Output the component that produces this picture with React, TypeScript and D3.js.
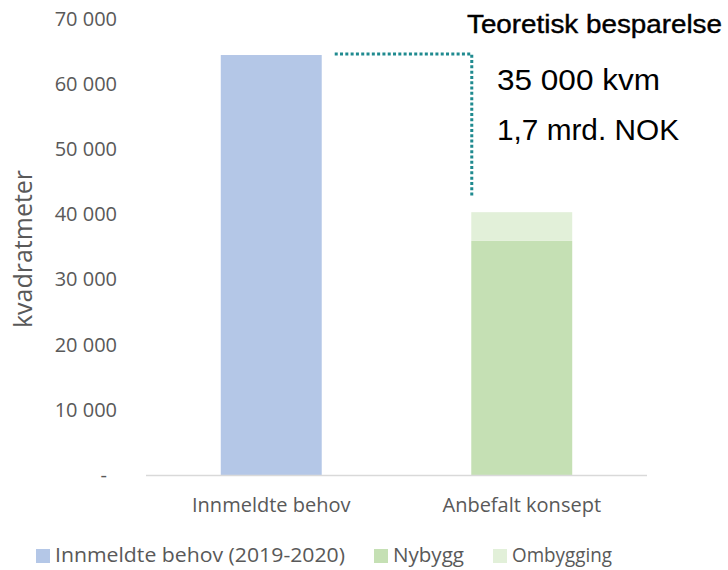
import React from "react";
import * as d3 from "d3";

const categories = ["Innmeldte behov", "Anbefalt konsept"];
const innmeldte = [64400, 0];
const nybygg = [0, 35900];
const ombygging = [0, 4400];
const yTicks = [0, 10000, 20000, 30000, 40000, 50000, 60000, 70000];
const seriesNames = ["Innmeldte behov (2019-2020)", "Nybygg", "Ombygging"];
const seriesColors = ["#b4c7e7", "#c5e0b4", "#e2f0d9"];

const W = 728;
const H = 570;
const gray = "#595959";
const font = "'Open Sans', sans-serif";
const annFont = "'Liberation Sans', Arial, sans-serif";

export default function App() {
    const x = d3.scaleBand<string>()
        .domain(categories)
        .range([146, 647])
        .paddingInner(0.597)
        .paddingOuter(0.2985);
    const y = d3.scaleLinear().domain([0, 70000]).range([475, 18.5]);
    const fmt = (v: number) => v === 0 ? "-" : d3.format(",")(v).replace(/,/g, " ");

    const stack = d3.stack<number>()
        .keys(["0", "1", "2"])
        .value((i, k) => [innmeldte, nybygg, ombygging][+k][i]);
    const layers = stack(d3.range(categories.length));

    const bar1Right = (x(categories[0]) as number) + x.bandwidth();
    const bar2Left = x(categories[1]) as number;
    const lineTop = y(innmeldte[0]) - 1;
    const lineBottom = y(nybygg[1] + ombygging[1]) - 15;

    const legendItems = [
        { x: 36, tx: 55, len: 290 },
        { x: 374, tx: 393, len: 71 },
        { x: 493, tx: 512, len: 100 },
    ];

    return (
        <svg width={W} height={H} style={{ position: "absolute", left: 0, top: 0 }}>
            <rect width={W} height={H} fill="#fff" />
            {/* y ticks */}
            {yTicks.map(t => (
                <text key={t} x={t === 0 ? 107 : 117} y={y(t)} dy="0.35em"
                    textAnchor="end" fontFamily={font} fontSize={20} fill={gray}>
                    {fmt(t)}
                </text>
            ))}
            <text transform={`translate(32,249) rotate(-90)`} textAnchor="middle"
                fontFamily={font} fontSize={25} fill={gray}>kvadratmeter</text>

            {/* bars */}
            {layers.map((layer, li) => layer.map((d, i) => {
                if (d[1] - d[0] <= 0) return null;
                return <rect key={li + "-" + i} x={x(categories[i])} width={x.bandwidth()}
                    y={y(d[1])} height={y(d[0]) - y(d[1])} fill={seriesColors[li]} />;
            }))}

            {/* baseline */}
            <line x1={146} x2={647} y1={y(0) + 0.5} y2={y(0) + 0.5} stroke="#d9d9d9" strokeWidth={1.5} />

            {/* category labels */}
            {categories.map(c => (
                <text key={c} x={(x(c) as number) + x.bandwidth() / 2} y={512}
                    textAnchor="middle" fontFamily={font} fontSize={20} fill={gray}>{c}</text>
            ))}

            {/* savings annotation */}
            <path d={`M${bar1Right + 13},${lineTop}H${bar2Left + 0.5}V${lineBottom}`}
                fill="none" stroke="#1f8a8f" strokeWidth={3} strokeDasharray="3 2.3" />
            <text x={467} y={33} fontFamily={annFont} fontSize={25}
                fill="#000" stroke="#000" strokeWidth={0.4} textLength={255}
                lengthAdjust="spacingAndGlyphs">Teoretisk besparelse</text>
            <text x={497} y={90} fontFamily={annFont} fontSize={29}
                fill="#000" textLength={163} lengthAdjust="spacingAndGlyphs">35 000 kvm</text>
            <text x={497} y={140} fontFamily={annFont} fontSize={29}
                fill="#000" textLength={182} lengthAdjust="spacingAndGlyphs">1,7 mrd. NOK</text>

            {/* legend */}
            {seriesNames.map((s, i) => (
                <g key={s}>
                    <rect x={legendItems[i].x} y={549} width={14} height={14} fill={seriesColors[i]} />
                    <text x={legendItems[i].tx} y={555} dy="0.35em" fontFamily={font}
                        fontSize={20} fill={gray} textLength={legendItems[i].len}
                        lengthAdjust="spacingAndGlyphs">{s}</text>
                </g>
            ))}
        </svg>
    );
}
